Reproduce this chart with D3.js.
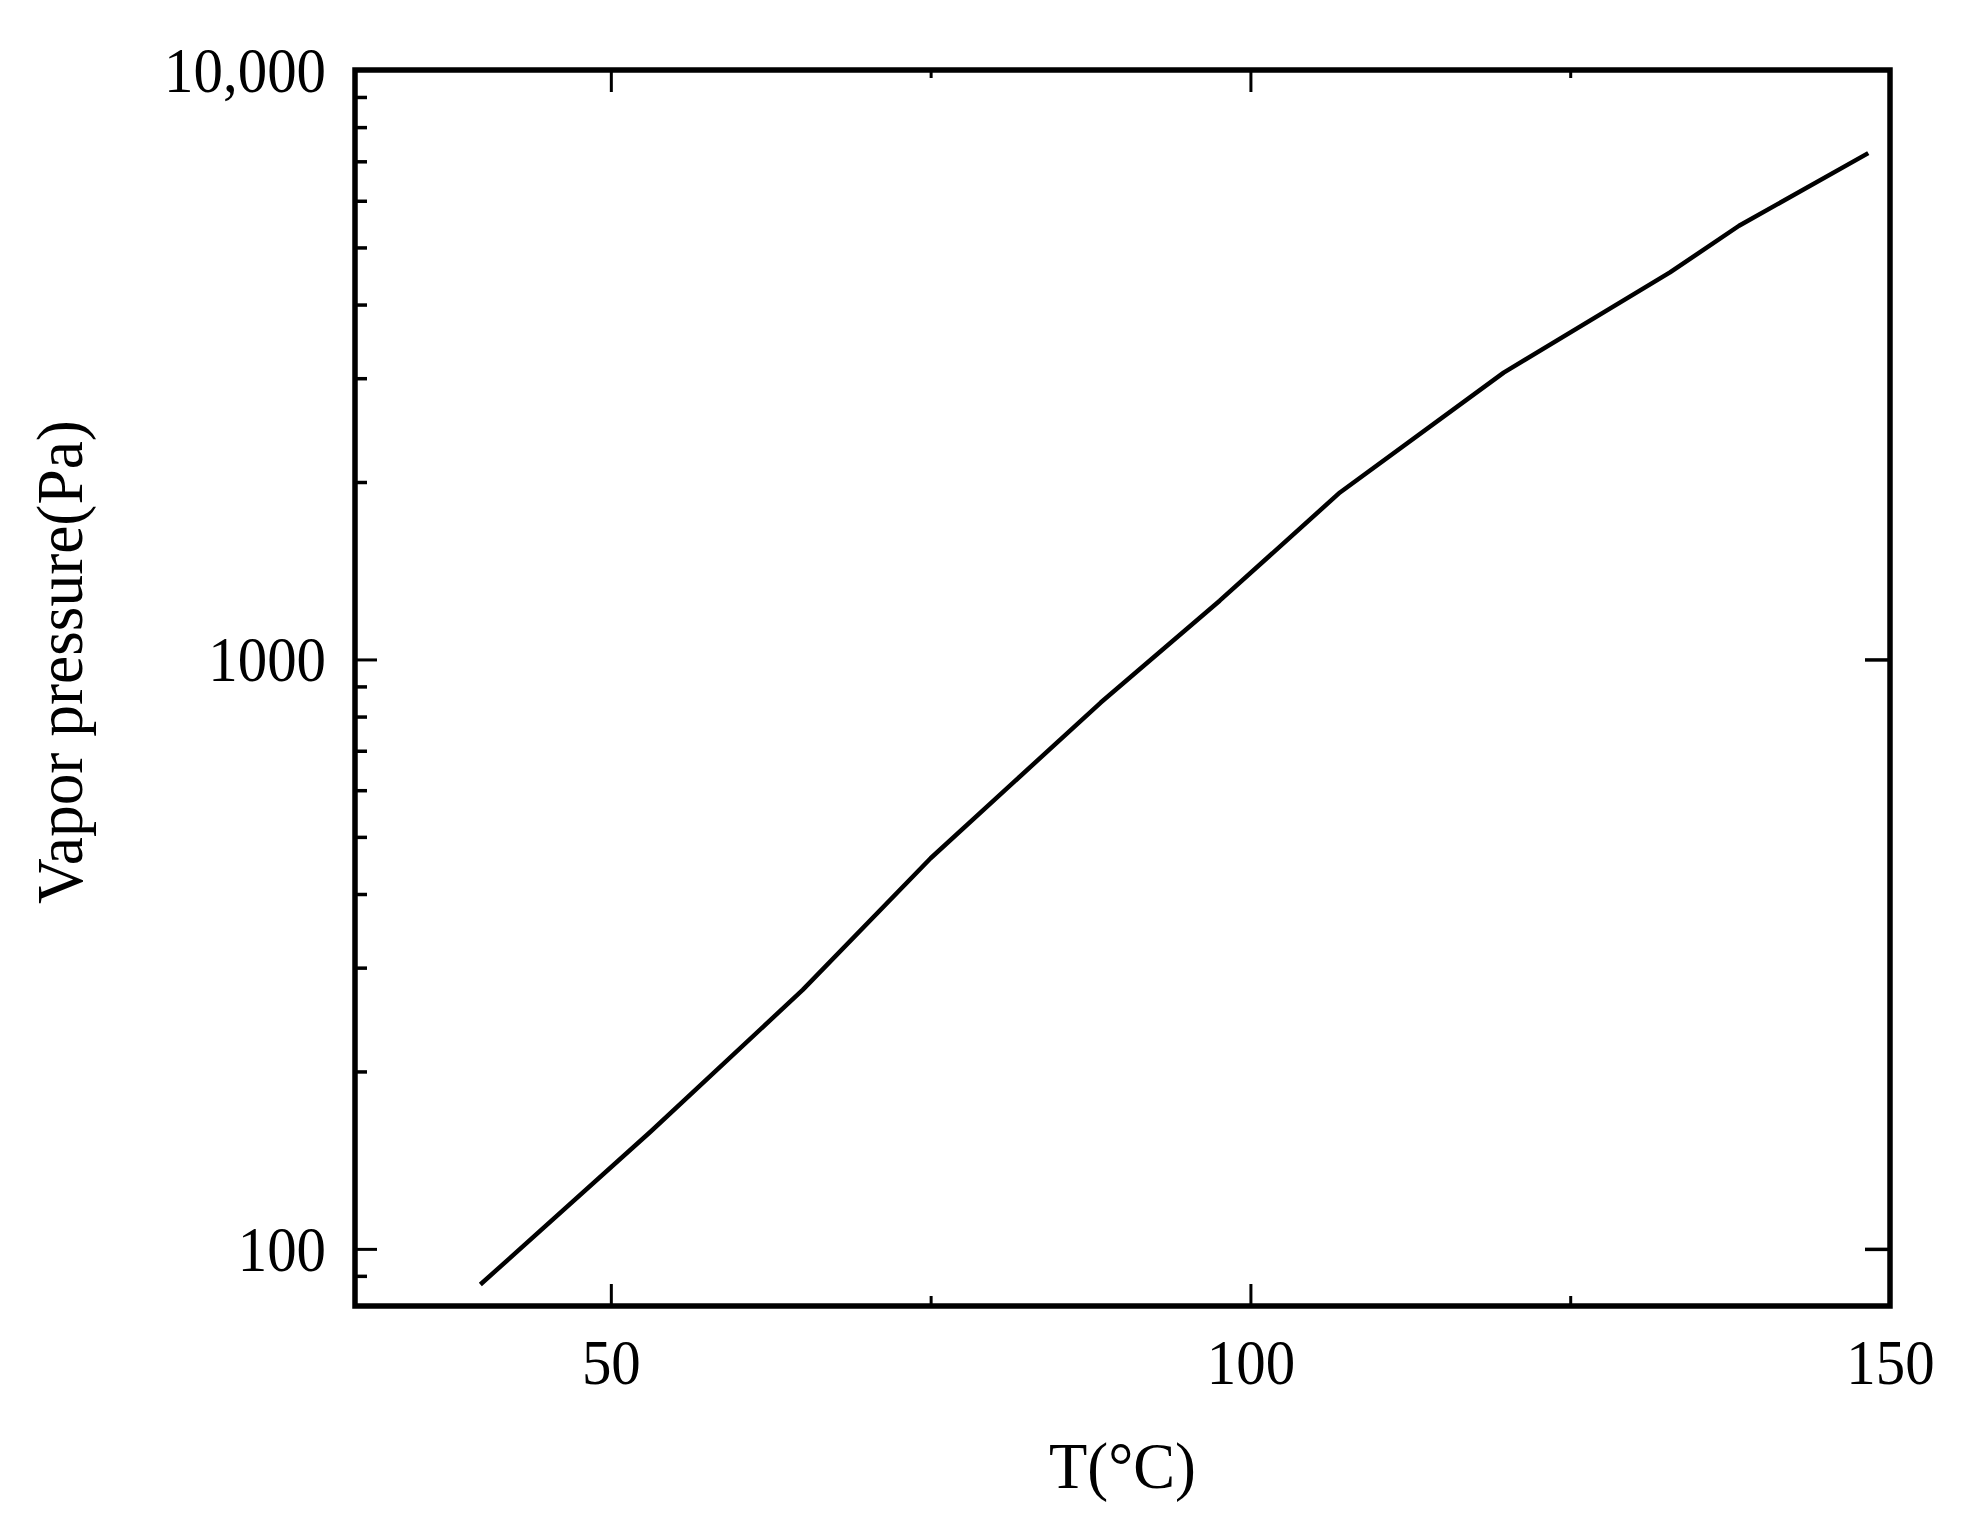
<!DOCTYPE html>
<html>
<head>
<meta charset="utf-8">
<script src="https://cdn.jsdelivr.net/npm/d3@7"></script>
<style>
  html, body { margin: 0; padding: 0; background: #fff; }
  svg { display: block; }
  text { font-family: "Liberation Serif", "Times New Roman", serif; fill: #000; }
</style>
</head>
<body>
<svg id="chart" width="1979" height="1535"></svg>
<script>
// ---- data ----
const temperature = [39.8, 53.1, 65, 75, 88.3, 97.6, 107, 119.8, 132.8, 138.2, 148.3];
const vaporPressure = [87, 158, 275, 460, 845, 1258, 1920, 3066, 4535, 5442, 7228];

const xMajorTicks = [50, 100, 150];
const xMinorTicks = [75, 125];
const yMajorTicks = [100, 1000, 10000];
const yMajorLabels = ["100", "1000", "10,000"];
const yMinorTicks = [90, 200, 300, 400, 500, 600, 700, 800, 900, 2000, 3000, 4000, 5000, 6000, 7000, 8000, 9000];
const xTitle = "T(°C)";
const yTitle = "Vapor pressure(Pa)";

// ---- layout ----
const L = 355, R = 1890, T = 70, B = 1306;
const svg = d3.select("#chart");

const x = d3.scaleLinear().domain([30, 150]).range([L, R]);
const y = d3.scaleLog().domain([80, 10000]).range([B, T]);

function styleAxis(g, sw) {
  g.select(".domain").remove();
  g.selectAll(".tick line").attr("stroke", "#000").attr("stroke-width", sw);
}
// condensed look: shrink glyph widths while keeping height
function condense(sel, k) {
  sel.each(function () {
    const w = this.getComputedTextLength();
    d3.select(this).attr("textLength", w * k).attr("lengthAdjust", "spacingAndGlyphs");
  });
}

// left axis major
svg.append("g").attr("transform", `translate(${L},0)`)
  .call(d3.axisLeft(y).tickValues(yMajorTicks).tickSize(-22).tickPadding(29)
    .tickFormat((d, i) => yMajorLabels[i]))
  .call(g => {
    styleAxis(g, 3);
    g.selectAll("text").attr("font-size", 64).attr("dy", "0.33em").call(condense, 0.92);
  });
// left axis minor
svg.append("g").attr("transform", `translate(${L},0)`)
  .call(d3.axisLeft(y).tickValues(yMinorTicks).tickSize(-12).tickFormat(""))
  .call(g => styleAxis(g, 3.5));
// right axis major
svg.append("g").attr("transform", `translate(${R},0)`)
  .call(d3.axisRight(y).tickValues(yMajorTicks.slice(0, 2)).tickSize(-25).tickFormat(""))
  .call(g => styleAxis(g, 3.5));
// bottom axis major
svg.append("g").attr("transform", `translate(0,${B})`)
  .call(d3.axisBottom(x).tickValues(xMajorTicks).tickSize(-22).tickPadding(33).tickFormat(d3.format("d")))
  .call(g => {
    styleAxis(g, 3);
    g.selectAll("text").attr("font-size", 64).attr("dy", "0.71em").call(condense, 0.92);
  });
// bottom axis minor
svg.append("g").attr("transform", `translate(0,${B})`)
  .call(d3.axisBottom(x).tickValues(xMinorTicks).tickSize(-10).tickFormat(""))
  .call(g => styleAxis(g, 3));
// top axis
svg.append("g").attr("transform", `translate(0,${T})`)
  .call(d3.axisTop(x).tickValues(xMajorTicks.slice(0, 2)).tickSize(-22).tickFormat(""))
  .call(g => styleAxis(g, 3));
svg.append("g").attr("transform", `translate(0,${T})`)
  .call(d3.axisTop(x).tickValues(xMinorTicks).tickSize(-8).tickFormat(""))
  .call(g => styleAxis(g, 3));

// frame
svg.append("rect")
  .attr("x", L).attr("y", T).attr("width", R - L).attr("height", B - T)
  .attr("fill", "none").attr("stroke", "#000").attr("stroke-width", 5.5);

// curve
const pts = temperature.map((t, i) => [t, vaporPressure[i]]);
svg.append("path")
  .datum(pts)
  .attr("fill", "none")
  .attr("stroke", "#000")
  .attr("stroke-width", 4.5)
  .attr("stroke-linejoin", "round")
  .attr("d", d3.line().x(d => x(d[0])).y(d => y(d[1])));

// titles
svg.append("text")
  .attr("x", (L + R) / 2).attr("y", 1488)
  .attr("text-anchor", "middle").attr("font-size", 66)
  .text(xTitle).call(condense, 0.95);
svg.append("text")
  .attr("transform", "translate(82,662) rotate(-90)")
  .attr("text-anchor", "middle").attr("font-size", 66)
  .text(yTitle).call(condense, 0.96);
</script>
</body>
</html>
